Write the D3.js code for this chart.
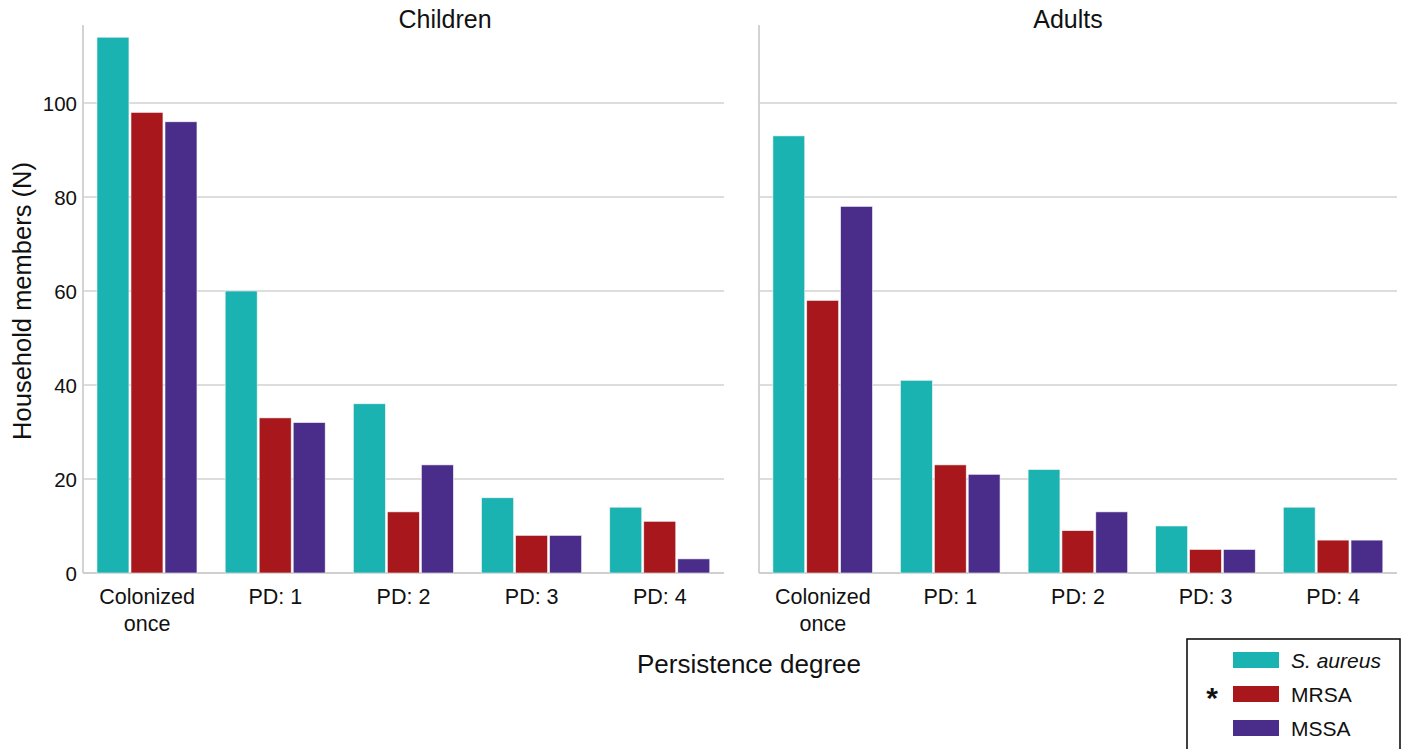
<!DOCTYPE html>
<html><head><meta charset="utf-8">
<script src="https://cdn.jsdelivr.net/npm/d3@7"></script>
<style>body{margin:0;background:#fff;} svg{display:block;font-family:"Liberation Sans",Arial,sans-serif;}</style>
</head><body>
<svg id="c" width="1406" height="749"></svg>
<script>
const categories = ["Colonized once", "PD: 1", "PD: 2", "PD: 3", "PD: 4"];
const series = ["S. aureus", "MRSA", "MSSA"];
const childrenSAureus = [114, 60, 36, 16, 14];
const childrenMRSA    = [98, 33, 13, 8, 11];
const childrenMSSA    = [96, 32, 23, 8, 3];
const adultsSAureus   = [93, 41, 22, 10, 14];
const adultsMRSA      = [58, 23, 9, 5, 7];
const adultsMSSA      = [78, 21, 13, 5, 7];
const yTicks = [0, 20, 40, 60, 80, 100];
const colors = ["#1ab3b2", "#a7171b", "#4a2d8a"];

const panels = [
  {title: "Children", data: [childrenSAureus, childrenMRSA, childrenMSSA], x0: 83, x1: 724, titleX: 445, labels: true},
  {title: "Adults", data: [adultsSAureus, adultsMRSA, adultsMSSA], x0: 759, x1: 1397, titleX: 1068, labels: false}
];

const svg = d3.select("#c");
const y = d3.scaleLinear().domain([0, 116.6]).range([573, 25]);
const color = d3.scaleOrdinal().domain(series).range(colors);

panels.forEach(p => {
  const g = svg.append("g");
  const x = d3.scaleBand().domain(categories).range([p.x0, p.x1]).padding(0);
  const bw = x.bandwidth();
  const xs = d3.scaleBand().domain(series).range([0.109 * bw, 0.889 * bw]).paddingInner(0.06);
  g.selectAll("line.grid").data(yTicks.filter(t => t > 0)).join("line")
    .attr("x1", p.x0).attr("x2", p.x1)
    .attr("y1", d => y(d)).attr("y2", d => y(d))
    .attr("stroke", "#d2d2d2").attr("stroke-width", 1.5);
  g.append("line").attr("x1", p.x0).attr("x2", p.x0).attr("y1", y(116.6)).attr("y2", y(0))
    .attr("stroke", "#cfcfcf").attr("stroke-width", 1.8);
  g.append("line").attr("x1", p.x0).attr("x2", p.x1).attr("y1", y(0)).attr("y2", y(0))
    .attr("stroke", "#cfcfcf").attr("stroke-width", 1.8);
  const rows = [];
  categories.forEach((c, i) => series.forEach((s, j) => rows.push({c, s, v: p.data[j][i]})));
  g.selectAll("rect.bar").data(rows).join("rect")
    .attr("x", d => x(d.c) + xs(d.s))
    .attr("width", xs.bandwidth())
    .attr("y", d => y(d.v))
    .attr("height", d => y(0) - y(d.v))
    .attr("fill", d => color(d.s))
    .attr("stroke", "#f2f2f2").attr("stroke-width", 0.6);
  categories.forEach(c => {
    const words = c === "Colonized once" ? ["Colonized", "once"] : [c];
    words.forEach((w, k) => {
      g.append("text").attr("x", x(c) + bw / 2).attr("y", 604 + k * 27)
        .attr("text-anchor", "middle").attr("font-size", 21.5).attr("fill", "#111").text(w);
    });
  });
  g.append("text").attr("x", p.titleX).attr("y", 28).attr("text-anchor", "middle")
    .attr("font-size", 25).attr("fill", "#111").text(p.title);
  if (p.labels) {
    g.selectAll("text.tick").data(yTicks).join("text")
      .attr("x", 77).attr("y", d => y(d) + 7.5)
      .attr("text-anchor", "end").attr("font-size", 20.5).attr("fill", "#111").text(d => d);
  }
});

svg.append("text").attr("transform", "translate(31,301) rotate(-90)").attr("text-anchor", "middle")
  .attr("font-size", 25.5).attr("fill", "#111").text("Household members (N)");
svg.append("text").attr("x", 749).attr("y", 673).attr("text-anchor", "middle")
  .attr("font-size", 26).attr("fill", "#111").text("Persistence degree");

const lg = svg.append("g");
lg.append("rect").attr("x", 1187).attr("y", 639).attr("width", 213).attr("height", 120)
  .attr("fill", "#fff").attr("stroke", "#111").attr("stroke-width", 1.6);
series.forEach((s, i) => {
  const cy = 660 + i * 34;
  lg.append("rect").attr("x", 1233).attr("y", cy - 8).attr("width", 46).attr("height", 16)
    .attr("fill", color(s));
  lg.append("text").attr("x", 1291).attr("y", cy + 7.5).attr("font-size", 21).attr("fill", "#111")
    .attr("font-style", i === 0 ? "italic" : "normal").text(s);
});
lg.append("text").attr("x", 1212).attr("y", 708).attr("text-anchor", "middle")
  .attr("font-size", 30).attr("font-weight", "bold").attr("fill", "#111").text("*");
</script>
</body></html>
